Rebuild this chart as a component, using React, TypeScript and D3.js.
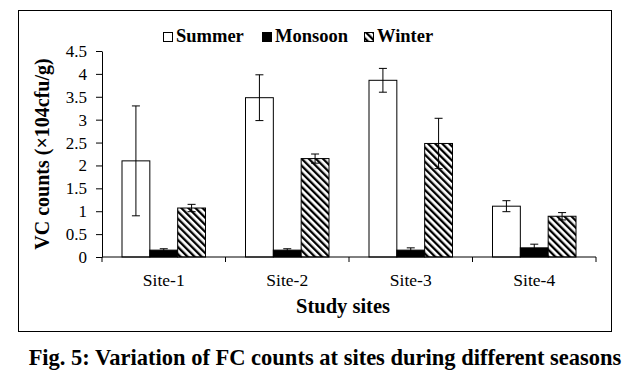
import React, { useEffect, useRef } from "react";
import * as d3 from "d3";

const sites = ["Site-1", "Site-2", "Site-3", "Site-4"];
const seasons = ["Summer", "Monsoon", "Winter"];
const summer = [2.1, 3.48, 3.86, 1.11];
const summerErr = [1.2, 0.5, 0.26, 0.12];
const monsoon = [0.15, 0.15, 0.15, 0.2];
const monsoonErr = [0.03, 0.03, 0.05, 0.08];
const winter = [1.07, 2.15, 2.48, 0.89];
const winterErr = [0.08, 0.1, 0.55, 0.08];
const yTicks = [0, 0.5, 1, 1.5, 2, 2.5, 3, 3.5, 4, 4.5];

const FONT = "'Liberation Serif', 'Times New Roman', serif";

export default function App() {
  const ref = useRef<SVGSVGElement>(null);

  useEffect(() => {
    const svg = d3.select(ref.current);
    svg.selectAll("*").remove();

    const left = 102, right = 596, top = 51, bottom = 257;

    const x = d3.scaleBand().domain(sites).range([left, right]).padding(0);
    const bw = x.bandwidth();
    const xs = d3.scaleBand().domain(seasons).range([20, bw - 20]).padding(0);
    const y = d3.scaleLinear().domain([0, 4.5]).range([bottom, top]);

    const defs = svg.append("defs");
    const pat = defs
      .append("pattern")
      .attr("id", "hatch")
      .attr("patternUnits", "userSpaceOnUse")
      .attr("width", 5)
      .attr("height", 5)
      .attr("patternTransform", "rotate(-45)");
    pat.append("rect").attr("width", 5).attr("height", 5).attr("fill", "#fff");
    pat.append("rect").attr("width", 2.3).attr("height", 5).attr("fill", "#000");

    // outer frame
    svg.append("rect")
      .attr("x", 18.5).attr("y", 10.5)
      .attr("width", 593).attr("height", 321)
      .attr("fill", "#fff").attr("stroke", "#000").attr("stroke-width", 1);

    const fills: Record<string, string> = { Summer: "#fff", Monsoon: "#000", Winter: "url(#hatch)" };
    const rows = sites.flatMap((s, i) => [
      { site: s, season: "Summer", v: summer[i], e: summerErr[i] },
      { site: s, season: "Monsoon", v: monsoon[i], e: monsoonErr[i] },
      { site: s, season: "Winter", v: winter[i], e: winterErr[i] },
    ]);

    const g = svg.append("g");
    g.selectAll("rect.bar")
      .data(rows)
      .join("rect")
      .attr("class", "bar")
      .attr("x", d => (x(d.site) as number) + (xs(d.season) as number))
      .attr("y", d => y(d.v))
      .attr("width", xs.bandwidth())
      .attr("height", d => y(0) - y(d.v))
      .attr("fill", d => fills[d.season])
      .attr("stroke", "#000")
      .attr("stroke-width", 1);

    // error bars
    const eb = g.selectAll("g.err").data(rows).join("g").attr("class", "err")
      .attr("transform", d => `translate(${(x(d.site) as number) + (xs(d.season) as number) + xs.bandwidth() / 2},0)`);
    eb.append("line").attr("x1", 0).attr("x2", 0)
      .attr("y1", d => y(d.v + d.e)).attr("y2", d => y(d.v - d.e))
      .attr("stroke", "#000");
    eb.append("line").attr("x1", -4).attr("x2", 4)
      .attr("y1", d => y(d.v + d.e)).attr("y2", d => y(d.v + d.e))
      .attr("stroke", "#000");
    eb.append("line").attr("x1", -4).attr("x2", 4)
      .attr("y1", d => y(d.v - d.e)).attr("y2", d => y(d.v - d.e))
      .attr("stroke", "#000");

    // y axis
    const ya = svg.append("g")
      .attr("transform", `translate(${left},0)`)
      .call(d3.axisLeft(y).tickValues(yTicks).tickFormat(d => String(d)).tickSize(6).tickSizeOuter(0).tickPadding(9));
    ya.select(".domain").attr("stroke", "#000");
    ya.selectAll("text").attr("font-family", FONT).attr("font-size", 17).attr("fill", "#000");

    // x axis
    const xa = svg.append("g").attr("transform", `translate(0,${bottom})`);
    xa.append("line").attr("x1", left).attr("x2", right).attr("stroke", "#000");
    const bounds = [...sites.map(s => x(s) as number), right];
    xa.selectAll("line.tick").data(bounds).join("line").attr("class", "tick")
      .attr("x1", d => d).attr("x2", d => d).attr("y1", 0).attr("y2", 5).attr("stroke", "#000");
    xa.selectAll("text").data(sites).join("text")
      .attr("x", d => (x(d) as number) + bw / 2)
      .attr("y", 29)
      .attr("text-anchor", "middle")
      .attr("font-family", FONT)
      .attr("font-size", 17.5)
      .text(d => d);

    svg.append("text")
      .attr("x", 343).attr("y", 313)
      .attr("text-anchor", "middle")
      .attr("font-family", FONT).attr("font-weight", "bold").attr("font-size", 20.5)
      .text("Study sites");

    svg.append("text")
      .attr("transform", `translate(49,${(top + bottom) / 2}) rotate(-90)`)
      .attr("text-anchor", "middle")
      .attr("font-family", FONT).attr("font-weight", "bold").attr("font-size", 20)
      .text("VC counts (×104cfu/g)");

    // legend
    const legendX = [163, 262, 364];
    const lg = svg.append("g").selectAll("g").data(seasons).join("g")
      .attr("transform", (d, i) => `translate(${legendX[i]},32)`);
    lg.append("rect").attr("x", 0.5).attr("y", 0.5).attr("width", 9).attr("height", 9)
      .attr("fill", d => fills[d]).attr("stroke", "#000");
    lg.append("text").attr("x", 13).attr("y", 9.5)
      .attr("font-family", FONT).attr("font-weight", "bold").attr("font-size", 18.5)
      .text(d => d);

    svg.append("text")
      .attr("x", 325).attr("y", 365)
      .attr("text-anchor", "middle")
      .attr("font-family", FONT).attr("font-weight", "bold").attr("font-size", 22.5)
      .text("Fig. 5: Variation of FC counts at sites during different seasons");
  }, []);

  return (
    <svg
      ref={ref}
      width={635}
      height={385}
      style={{ position: "absolute", left: 0, top: 0, background: "#fff" }}
    />
  );
}
